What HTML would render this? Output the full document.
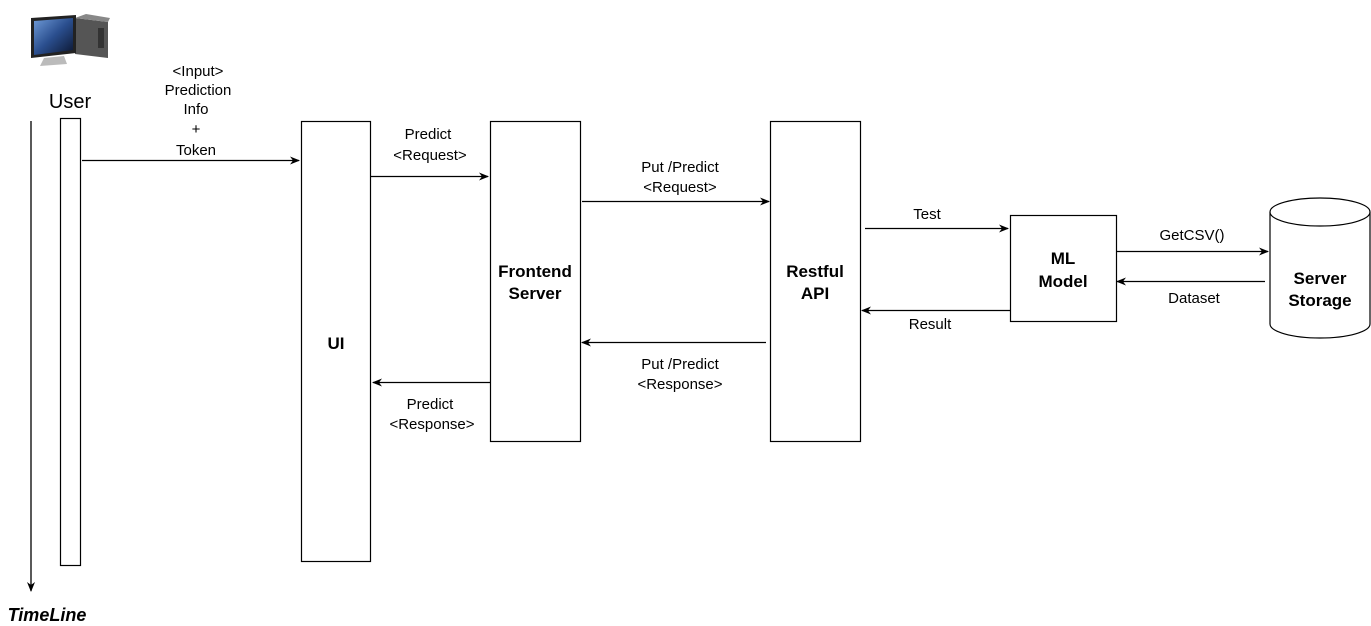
<!DOCTYPE html>
<html><head><meta charset="utf-8"><style>body{margin:0;background:#fff}svg{display:block}text{font-family:"Liberation Sans",Arial,sans-serif}</style></head><body>
<svg width="1371" height="626" viewBox="0 0 1371 626" xmlns="http://www.w3.org/2000/svg">
<defs>
<marker id="a" markerWidth="10" markerHeight="8" refX="9" refY="4" orient="auto" markerUnits="userSpaceOnUse"><path d="M0,0 L10,4 L0,8 L3,4 z" fill="#000"/></marker>
<linearGradient id="scr" x1="0" y1="0" x2="1" y2="1"><stop offset="0" stop-color="#6f9bd8"/><stop offset="0.5" stop-color="#2a4e8e"/><stop offset="1" stop-color="#0c1630"/></linearGradient>
</defs>
<polygon points="75,18 108,22 108,58 75,54" fill="#555"/>
<polygon points="75,18 86,14 110,18 108,22" fill="#888"/>
<rect x="98" y="28" width="6" height="20" fill="#333"/>
<polygon points="31,18 76,15 76,53 31,58" fill="#222"/>
<polygon points="34,21 73,18 73,50 34,55" fill="url(#scr)"/>
<polygon points="44,58 64,56 67,64 40,66" fill="#bbb"/>
<text x="70" y="108" font-size="20" text-anchor="middle">User</text>
<line x1="31" y1="121" x2="31" y2="591" stroke="#000" stroke-width="1.3" marker-end="url(#a)"/>
<text x="47" y="621" font-size="18" font-weight="bold" font-style="italic" text-anchor="middle">TimeLine</text>
<g fill="#fff" stroke="#000" stroke-width="1.2">
<rect x="60.5" y="118.5" width="20" height="447"/>
<rect x="301.5" y="121.5" width="69" height="440"/>
<rect x="490.5" y="121.5" width="90" height="320"/>
<rect x="770.5" y="121.5" width="90" height="320"/>
<rect x="1010.5" y="215.5" width="106" height="106"/>
<path d="M1270,212 L1270,324 A50,14 0 0 0 1370,324 L1370,212"/>
<ellipse cx="1320" cy="212" rx="50" ry="14"/>
</g>
<g stroke="#000" stroke-width="1.2" marker-end="url(#a)">
<line x1="82" y1="160.5" x2="299" y2="160.5"/>
<line x1="371" y1="176.5" x2="488" y2="176.5"/>
<line x1="582" y1="201.5" x2="769" y2="201.5"/>
<line x1="865" y1="228.5" x2="1008" y2="228.5"/>
<line x1="1117" y1="251.5" x2="1268" y2="251.5"/>
<line x1="1265" y1="281.5" x2="1117" y2="281.5"/>
<line x1="1010" y1="310.5" x2="862" y2="310.5"/>
<line x1="766" y1="342.5" x2="582" y2="342.5"/>
<line x1="490" y1="382.5" x2="373" y2="382.5"/>
</g>
<g font-size="15" text-anchor="middle">
<text x="198" y="76">&lt;Input&gt;</text>
<text x="198" y="95">Prediction</text>
<text x="196" y="114">Info</text>
<text x="196" y="134">+</text>
<text x="196" y="155">Token</text>
<text x="428" y="139">Predict</text>
<text x="430" y="160">&lt;Request&gt;</text>
<text x="680" y="172">Put /Predict</text>
<text x="680" y="192">&lt;Request&gt;</text>
<text x="927" y="219">Test</text>
<text x="1192" y="240">GetCSV()</text>
<text x="1194" y="303">Dataset</text>
<text x="930" y="329">Result</text>
<text x="680" y="369">Put /Predict</text>
<text x="680" y="389">&lt;Response&gt;</text>
<text x="430" y="409">Predict</text>
<text x="432" y="429">&lt;Response&gt;</text>
</g>
<g font-size="17" font-weight="bold" text-anchor="middle">
<text x="535" y="277">Frontend</text>
<text x="535" y="299">Server</text>
<text x="815" y="277">Restful</text>
<text x="815" y="299">API</text>
<text x="336" y="349">UI</text>
<text x="1063" y="264">ML</text>
<text x="1063" y="287">Model</text>
<text x="1320" y="284">Server</text>
<text x="1320" y="306">Storage</text>
</g>
</svg>
</body></html>
